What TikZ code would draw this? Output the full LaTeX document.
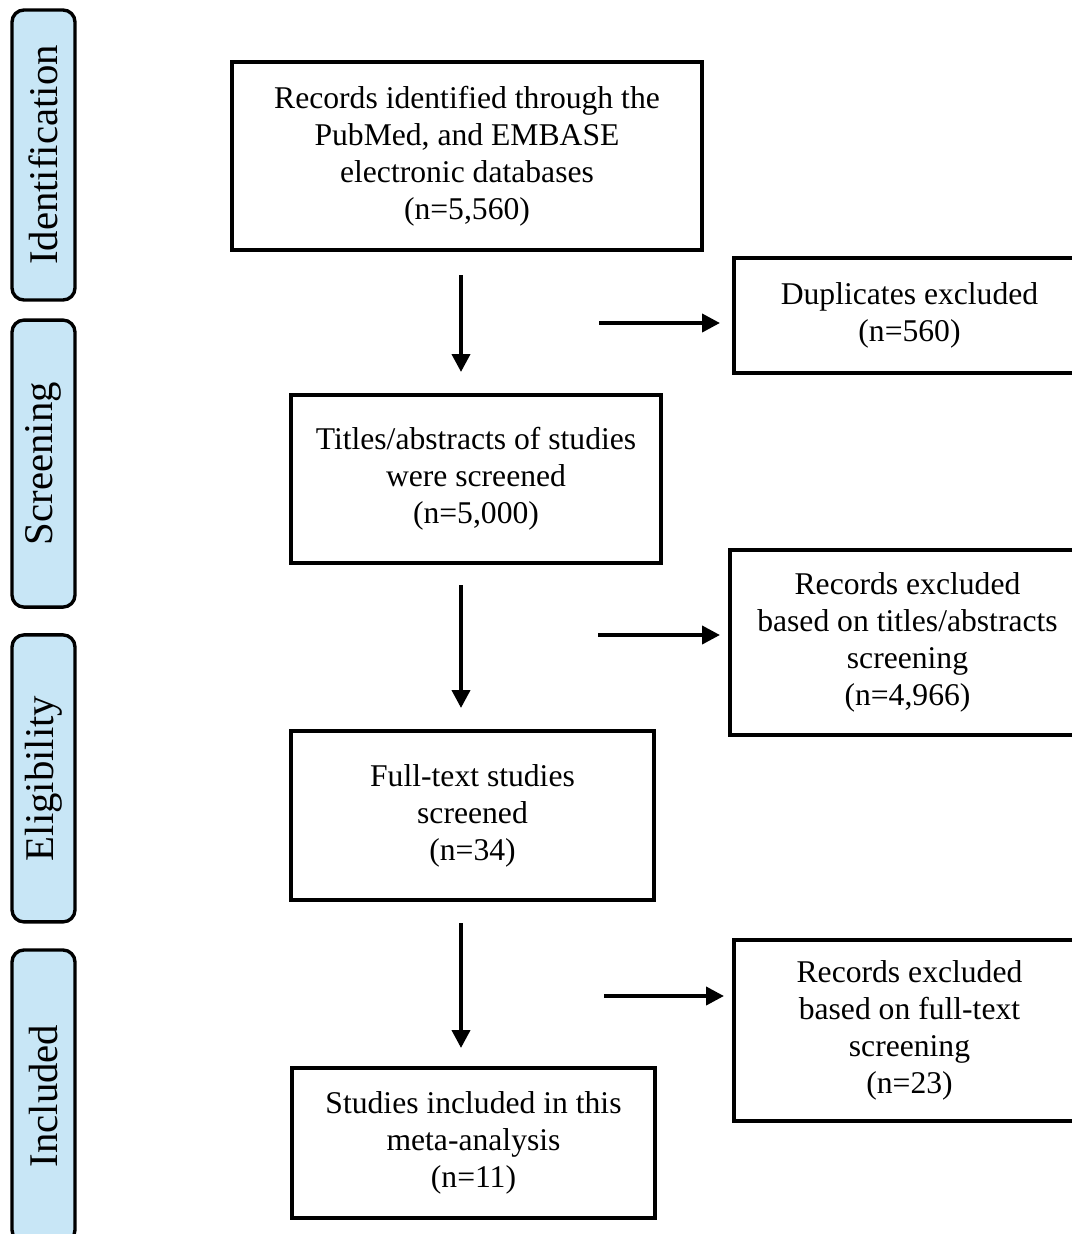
\documentclass[tikz,border=0pt]{standalone}
\usepackage{fontspec}
\setmainfont{Liberation Serif}
\usepackage{tikz}
\usetikzlibrary{arrows.meta}
\definecolor{tabblue}{RGB}{200, 230, 246}

\begin{document}
\begin{tikzpicture}[>={Triangle[length=0.45cm, width=0.45cm]},
  phase/.style={draw, line width=2.4pt, rounded corners=0.3cm, fill=tabblue, rotate=90, minimum height=1.575cm, font=\fontsize{29}{32}\selectfont},
  stage/.style={draw, line width=2.8pt, align=center, font=\fontsize{22.5}{26.3}\selectfont},
  excl/.style={draw, line width=2.8pt, align=center, font=\fontsize{22.5}{26.3}\selectfont},
  flow/.style={->, line width=2.8pt}]
\clip (0,0) rectangle (26.8,-30.85);
\fill[white] (0,0) rectangle (26.8,-30.85);
% LEFT: phase tabs
\node[phase, minimum width=7.25cm] (ident) at (1.0875,-3.875) {Identification};
\node[phase, minimum width=7.175cm] (screen) at (1.0875,-11.59) {Screening};
\node[phase, minimum width=7.175cm] (elig) at (1.0875,-19.46) {Eligibility};
\node[phase, minimum width=7.3cm] (incl) at (1.0875,-27.4) {Included};
% MIDDLE: main flow
\node[stage, minimum width=11.75cm, minimum height=4.7cm] (recs) at (11.675,-3.9) {Records identified through the\\PubMed, and EMBASE\\electronic databases\\(n=5,560)};
\node[stage, minimum width=9.25cm, minimum height=4.2cm] (titles) at (11.9,-11.975) {Titles/abstracts of studies\\were screened\\(n=5,000)};
\node[stage, minimum width=9.075cm, minimum height=4.225cm] (fulltext) at (11.8125,-20.3875) {Full-text studies\\screened\\(n=34)};
\node[stage, minimum width=9.075cm, minimum height=3.75cm] (final) at (11.8375,-28.575) {Studies included in this\\meta-analysis\\(n=11)};
% RIGHT: exclusions
\node[excl, minimum width=8.775cm, minimum height=2.875cm] (dups) at (22.7375,-7.8875) {Duplicates excluded\\(n=560)};
\node[excl, minimum width=8.875cm, minimum height=4.625cm] (exabs) at (22.6875,-16.0625) {Records excluded\\based on titles/abstracts\\screening\\(n=4,966)};
\node[excl, minimum width=8.775cm, minimum height=4.525cm] (exfull) at (22.7375,-25.7625) {Records excluded\\based on full-text\\screening\\(n=23)};
% arrow ends
\coordinate (v1a) at (11.525,-6.875);  \coordinate (v1b) at (11.525,-9.3);
\coordinate (v2a) at (11.525,-14.625); \coordinate (v2b) at (11.525,-17.7);
\coordinate (v3a) at (11.525,-23.075); \coordinate (v3b) at (11.525,-26.2);
\coordinate (h1a) at (14.975,-8.075);  \coordinate (h1b) at (18.0,-8.075);
\coordinate (h2a) at (14.95,-15.875);  \coordinate (h2b) at (18.0,-15.875);
\coordinate (h3a) at (15.1,-24.9);     \coordinate (h3b) at (18.1,-24.9);
\foreach \a/\b in {v1a/v1b, v2a/v2b, v3a/v3b, h1a/h1b, h2a/h2b, h3a/h3b} {\draw[flow] (\a) -- (\b);}
\end{tikzpicture}
\end{document}
